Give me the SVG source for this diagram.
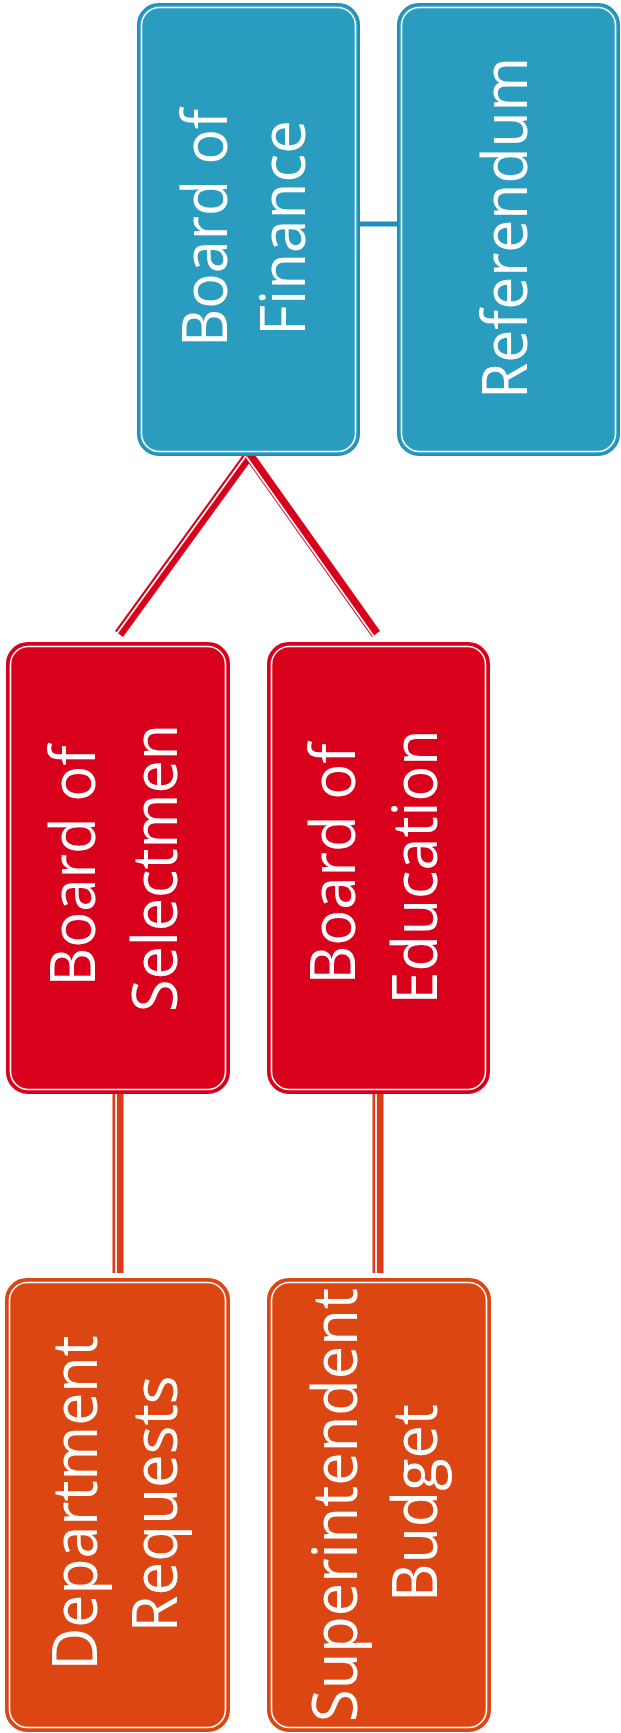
<svg xmlns="http://www.w3.org/2000/svg" width="621" height="1733" viewBox="0 0 621 1733">
<style>
.lbl{font-family:"Open Sans","Noto Sans","Liberation Sans",sans-serif;font-size:62px;fill:#ffffff;text-anchor:middle}
.blue{fill:#2a9cc0;stroke:#1f8fb8;stroke-width:2}
.red{fill:#d8001a;stroke:#d8001a;stroke-width:2}
.orange{fill:#dc4612;stroke:#dc4612;stroke-width:2}
.inner{fill:none;stroke:#ffffff;stroke-width:1.6}
.wl{stroke:#ffffff;stroke-width:1.8}
</style>
<rect width="621" height="1733" fill="#ffffff"/>
<g id="connectors">
<rect x="358" y="221.5" width="41" height="5" fill="#1f8fb8"/>
<line x1="249" y1="455" x2="119" y2="634" stroke="#d8001a" stroke-width="10"/>
<line x1="246.5" y1="455" x2="116.5" y2="634" class="wl"/>
<line x1="249" y1="455" x2="376" y2="634" stroke="#d8001a" stroke-width="10"/>
<line x1="246.5" y1="457" x2="373.5" y2="636" class="wl"/>
<rect x="243" y="452" width="12" height="4" fill="#d8001a"/>
<line x1="118" y1="1094" x2="118" y2="1273" stroke="#dc3a18" stroke-width="11"/>
<line x1="116" y1="1094" x2="116" y2="1273" class="wl"/>
<line x1="378" y1="1094" x2="378" y2="1273" stroke="#dc3a18" stroke-width="11"/>
<line x1="376" y1="1094" x2="376" y2="1273" class="wl"/>
</g>
<g id="board-of-finance">
<rect class="blue" x="138" y="4" width="221" height="451" rx="21"/>
<rect class="inner" x="141.5" y="7.5" width="214" height="444" rx="18"/>
<text class="lbl" transform="translate(227,228) rotate(-90)" textLength="238" lengthAdjust="spacingAndGlyphs">Board of</text>
<text class="lbl" transform="translate(305,228) rotate(-90)" textLength="216" lengthAdjust="spacingAndGlyphs">Finance</text>
</g>
<g id="referendum">
<rect class="blue" x="398" y="4" width="221" height="451" rx="21"/>
<rect class="inner" x="401.5" y="7.5" width="214" height="444" rx="18"/>
<text class="lbl" transform="translate(527,228) rotate(-90)" textLength="342" lengthAdjust="spacingAndGlyphs">Referendum</text>
</g>
<g id="board-of-selectmen">
<rect class="red" x="7" y="643" width="222" height="450" rx="21"/>
<rect class="inner" x="10.5" y="646.5" width="215" height="443" rx="18"/>
<text class="lbl" transform="translate(95,866) rotate(-90)" textLength="241" lengthAdjust="spacingAndGlyphs">Board of</text>
<text class="lbl" transform="translate(177,868) rotate(-90)" textLength="288" lengthAdjust="spacingAndGlyphs">Selectmen</text>
</g>
<g id="board-of-education">
<rect class="red" x="268" y="643" width="221" height="450" rx="21"/>
<rect class="inner" x="271.5" y="646.5" width="214" height="443" rx="18"/>
<text class="lbl" transform="translate(355,864) rotate(-90)" textLength="241" lengthAdjust="spacingAndGlyphs">Board of</text>
<text class="lbl" transform="translate(437,867) rotate(-90)" textLength="275" lengthAdjust="spacingAndGlyphs">Education</text>
</g>
<g id="department-requests">
<rect class="orange" x="6" y="1279" width="223" height="452" rx="21"/>
<rect class="inner" x="9.5" y="1282.5" width="216" height="445" rx="18"/>
<text class="lbl" transform="translate(97,1503) rotate(-90)" textLength="335" lengthAdjust="spacingAndGlyphs">Department</text>
<text class="lbl" transform="translate(177,1504) rotate(-90)" textLength="257" lengthAdjust="spacingAndGlyphs">Requests</text>
</g>
<g id="superintendent-budget">
<rect class="orange" x="268" y="1279" width="222" height="452" rx="21"/>
<rect class="inner" x="271.5" y="1282.5" width="215" height="445" rx="18"/>
<text class="lbl" transform="translate(357,1505) rotate(-90)" textLength="434" lengthAdjust="spacingAndGlyphs">Superintendent</text>
<text class="lbl" transform="translate(437,1503) rotate(-90)" textLength="198" lengthAdjust="spacingAndGlyphs">Budget</text>
</g>
</svg>
